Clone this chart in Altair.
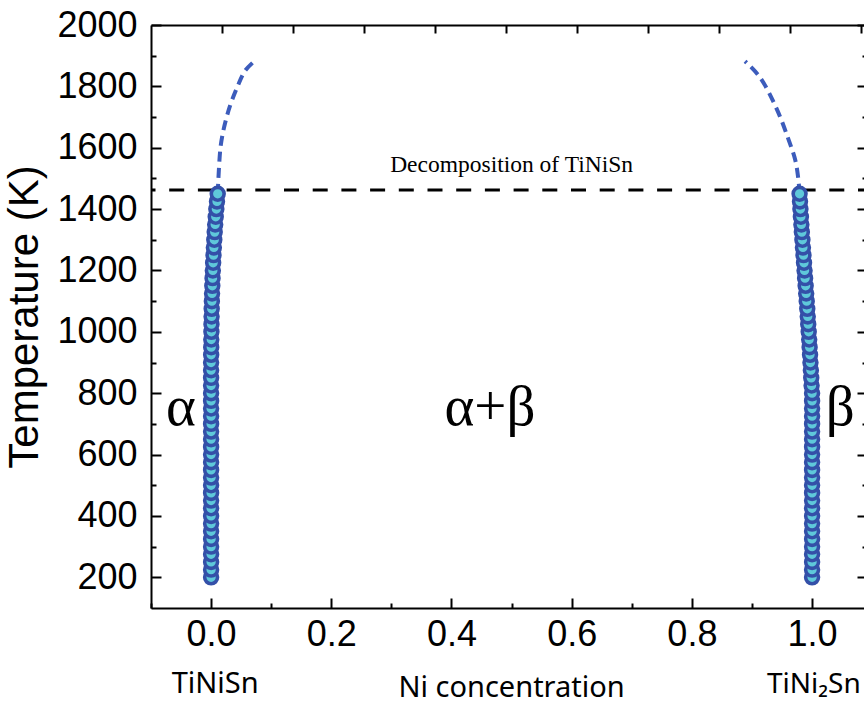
import altair as alt
import pandas as pd

# ---------------- data ----------------
temp_K = [200, 225, 250, 275, 300, 325, 350, 375, 400, 425, 450, 475, 500, 525, 550,
          575, 600, 625, 650, 675, 700, 725, 750, 775, 800, 825, 850, 875, 900, 925,
          950, 975, 1000, 1025, 1050, 1075, 1100, 1125, 1150, 1175, 1200, 1225, 1250,
          1275, 1300, 1325, 1350, 1375, 1400, 1425, 1450]
x_alpha = [0.0, 0.0, 0.0, 0.0, 0.0, 0.0, 0.0, 0.0, 0.0, 0.0, 0.0, 0.0, 0.0, 0.0, 0.0,
           0.0, 0.0, 0.0, 0.0, 0.0, 0.0, 0.0, 0.0, 0.0, 0.0, 0.0, 0.0, 0.0, 0.0, 0.0001,
           0.0002, 0.0003, 0.0005, 0.0006, 0.0008, 0.001, 0.0013, 0.0016, 0.002, 0.0024,
           0.0029, 0.0034, 0.004, 0.0046, 0.0053, 0.006, 0.0068, 0.0077, 0.0087, 0.0098, 0.011]
x_beta = [1.0, 1.0, 1.0, 1.0, 1.0, 1.0, 1.0, 1.0, 1.0, 1.0, 1.0, 1.0, 1.0, 1.0, 1.0,
          1.0, 1.0, 1.0, 1.0, 1.0, 1.0, 1.0, 1.0, 1.0, 1.0, 0.9992, 0.9986, 0.998, 0.9973,
          0.9966, 0.9959, 0.9952, 0.9944, 0.9936, 0.9928, 0.992, 0.9911, 0.9902, 0.9893,
          0.9884, 0.9875, 0.9866, 0.9857, 0.9848, 0.9839, 0.983, 0.9822, 0.9814, 0.9806,
          0.9799, 0.9792]

curve_alpha_x = [0.011, 0.013, 0.016, 0.022, 0.0316, 0.044, 0.0566, 0.073]
curve_alpha_T = [1450, 1530, 1606, 1670, 1737, 1800, 1851, 1884]
curve_beta_x = [0.9792, 0.977, 0.972, 0.9606, 0.9413, 0.9135, 0.8885]
curve_beta_T = [1450, 1500, 1560, 1628, 1726, 1829, 1882]

decomposition_T = [1462]

phase_labels = ["α", "α+β", "β"]
phase_x = [-0.05, 0.464, 1.047]
phase_T = [697, 697, 697]

bottom_labels = ["TiNiSn", "Ni concentration", "TiNi₂Sn"]
bottom_x = [0.0067, 0.5, 0.925]
bottom_T = [-177, -190, -177]
bottom_align = ["center", "center", "left"]

note_text = ["Decomposition of TiNiSn"]
note_x = [0.5]
note_T = [1520]

x_major = [0.0, 0.2, 0.4, 0.6, 0.8, 1.0]
x_minor = [-0.1, 0.1, 0.3, 0.5, 0.7, 0.9]
x_top = [0.0178, 0.1359, 0.254, 0.3721, 0.4902, 0.6083, 0.7264, 0.8445, 0.9626, 1.0807]
y_major = [200, 400, 600, 800, 1000, 1200, 1400, 1600, 1800, 2000]
y_minor = [300, 500, 700, 900, 1100, 1300, 1500, 1700, 1900]

X_DOMAIN = [-0.1, 1.0864]
Y_DOMAIN = [100, 2000]

# ---------------- tables ----------------
points_df = pd.DataFrame({
    "x": x_alpha + x_beta,
    "T": temp_K + temp_K,
    "branch": ["alpha"] * len(temp_K) + ["beta"] * len(temp_K),
    "ord": list(range(2 * len(temp_K))),
})
curves_df = pd.DataFrame({
    "x": curve_alpha_x + curve_beta_x,
    "T": curve_alpha_T + curve_beta_T,
    "branch": ["alpha"] * len(curve_alpha_x) + ["beta"] * len(curve_beta_x),
})
rule_df = pd.DataFrame({"T": decomposition_T})
phase_df = pd.DataFrame({"label": phase_labels, "x": phase_x, "T": phase_T})
bottom_df = pd.DataFrame({"label": bottom_labels, "x": bottom_x, "T": bottom_T, "align": bottom_align})
note_df = pd.DataFrame({"label": note_text, "x": note_x, "T": note_T})

# ---------------- axes ----------------
LAB_FONT = "Liberation Sans"
common = dict(grid=False, tickColor="black", tickWidth=2, domainColor="black", domainWidth=2)

ax_bottom_major = alt.Axis(orient="bottom", values=x_major, format=".1f", offset=-10, tickSize=10,
                           domain=False, labelFont=LAB_FONT, labelFontSize=36, labelColor="black",
                           labelPadding=9, labelFlush=False, labelOverlap=False, title=None, **common)
ax_bottom_minor = alt.Axis(orient="bottom", values=x_minor, offset=-5, tickSize=5, labels=False,
                           domain=False, title=None, **common)
ax_bottom_domain = alt.Axis(orient="bottom", ticks=False, labels=False, domain=True, title=None, **common)
ax_top_ticks = alt.Axis(orient="top", values=x_top, offset=-8, tickSize=8, labels=False,
                        domain=False, title=None, **common)
ax_top_domain = alt.Axis(orient="top", ticks=False, labels=False, domain=True, title=None, **common)

ax_left_major = alt.Axis(orient="left", values=y_major, format="d", offset=-10, tickSize=10,
                         domain=False, labelFont=LAB_FONT, labelFontSize=36, labelColor="black",
                         labelPadding=14, labelFlush=False, labelOverlap=False,
                         title="Temperature (K)", titleFont=LAB_FONT, titleFontSize=42,
                         titleFontWeight="normal", titleColor="black", titlePadding=10, **common)
ax_left_minor = alt.Axis(orient="left", values=y_minor, offset=-5, tickSize=5, labels=False,
                         domain=False, title=None, **common)
ax_left_domain = alt.Axis(orient="left", ticks=False, labels=False, domain=True, title=None, **common)
ax_right_major = alt.Axis(orient="right", values=y_major, offset=-7, tickSize=10, labels=False,
                          domain=False, title=None, **common)
ax_right_minor = alt.Axis(orient="right", values=y_minor, offset=-2, tickSize=5, labels=False,
                          domain=False, title=None, **common)


def X(axis):
    return alt.X("x:Q", scale=alt.Scale(domain=X_DOMAIN, nice=False, zero=False), axis=axis)


def Y(axis):
    return alt.Y("T:Q", scale=alt.Scale(domain=Y_DOMAIN, nice=False, zero=False), axis=axis)


# ---------------- layers ----------------
rule = alt.Chart(rule_df).mark_rule(color="black", strokeWidth=3, strokeDash=[15, 13.7],
                                    strokeDashOffset=9).encode(y=Y(ax_left_major))

curves = alt.Chart(curves_df).mark_line(interpolate="catmull-rom", strokeDash=[10, 6], strokeWidth=4,
                                        color="#3c5cbc").encode(
    x=X(ax_bottom_minor), y=Y(ax_left_domain), detail="branch:N", order="T:Q")

points = alt.Chart(points_df).mark_circle(size=165, fill="#5fc8da", stroke="#3450a8", strokeWidth=3.6,
                                          opacity=1, fillOpacity=1).encode(
    x=X(ax_bottom_major), y=Y(ax_left_minor), order="ord:Q")

phases = alt.Chart(phase_df).mark_text(font="Liberation Serif", fontSize=57, color="black",
                                       align="center", baseline="alphabetic").encode(
    x=X(ax_bottom_domain), y=Y(ax_right_major), text="label:N")

bottom_left = alt.Chart(bottom_df).transform_filter(alt.datum.align == "center").mark_text(
    font="Noto Sans", fontSize=29, color="black", align="center", baseline="alphabetic").encode(
    x=X(ax_top_ticks), y=Y(ax_right_minor), text="label:N")

bottom_right = alt.Chart(bottom_df).transform_filter(alt.datum.align == "left").mark_text(
    font="Noto Sans", fontSize=28, color="black", align="left", baseline="alphabetic").encode(
    x=X(ax_top_domain), y=Y(None), text="label:N")

note = alt.Chart(note_df).mark_text(font="Liberation Serif", fontSize=23.5, color="black",
                                    align="center", baseline="alphabetic").encode(
    x=X(None), y=Y(None), text="label:N")

chart = alt.layer(rule, curves, points, phases, bottom_left, bottom_right, note).resolve_axis(
    x="independent", y="independent"
).properties(
    width=713, height=583,
    autosize=alt.AutoSizeParams(type="none"),
    padding={"left": 151, "top": 25, "right": 0, "bottom": 99},
    background="white",
).configure_view(stroke=None)

chart.save("out.html", embed_options={"renderer": "svg", "actions": False})
